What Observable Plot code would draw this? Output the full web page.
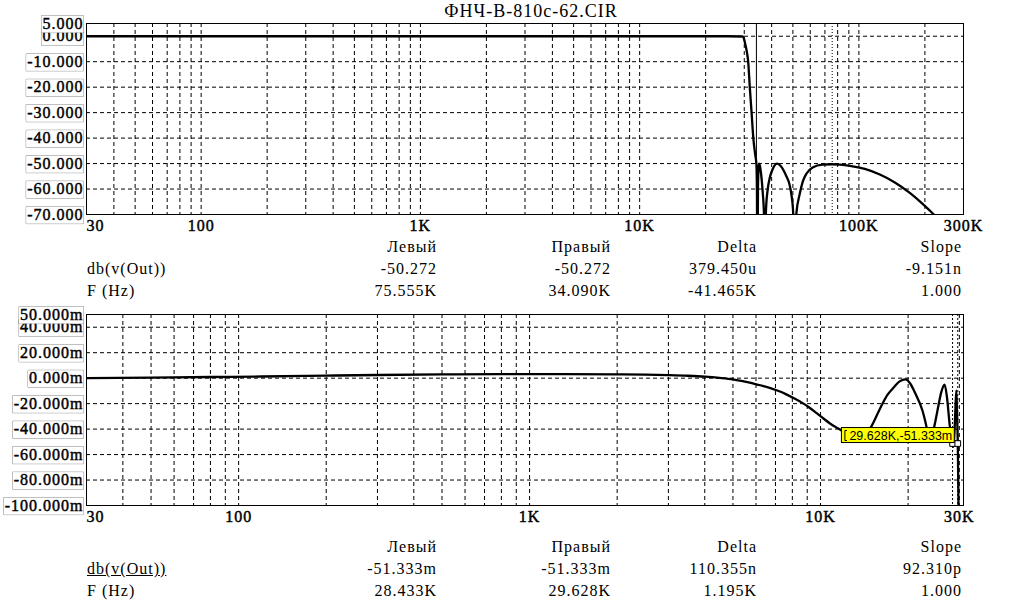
<!DOCTYPE html>
<html><head><meta charset="utf-8">
<script src="https://cdn.jsdelivr.net/npm/d3@7"></script>
<script src="https://cdn.jsdelivr.net/npm/@observablehq/plot@0.6"></script>
<style>
body{margin:0;background:#fff;}
#page{position:relative;width:1012px;height:603px;overflow:hidden;background:#fff;font-family:"Liberation Serif","Times New Roman","DejaVu Serif",serif;color:#000;}
#page svg{position:absolute;left:0;}
#page svg text{letter-spacing:1px;}
.t{position:absolute;font-size:16px;line-height:16px;letter-spacing:1px;white-space:nowrap;}
.title{position:absolute;font-size:18px;line-height:18px;letter-spacing:1px;white-space:nowrap;}
.u{text-decoration:underline;}
</style>
</head><body><div id="page"></div>
<script>
// ---------- data ----------
const chartTitle = "ФНЧ-В-810с-62.CIR";

// top panel: magnitude dB vs frequency
const topFreq = [30,1000,10000,25000,29500,29800,30200,30750,31260,31800,32400,33000,33600,34090,34300,34450,34650,34850,35050,35400,35800,36400,36900,37250,37700,38400,39300,40500,42400,44000,46700,48200,49200,50200,50900,51800,53700,55500,57600,61500,68300,75555,82000,90900,106400,124600,145900,170700,193600,219700,249200];
const topDb   = [0,0,0,0,-0.1,-0.6,-2.5,-5.6,-10,-20,-30,-40,-46,-50.272,-60,-100,-60,-52,-50,-51,-54,-61,-70,-100,-68,-60,-55.3,-52,-50,-51,-55,-58,-62,-70,-100,-70,-62,-57,-54,-51.5,-50.4,-50.272,-50.45,-50.9,-52.1,-54.3,-57.4,-61.5,-65.5,-70,-75];

// bottom panel: passband detail, milli-dB
const botFreq = [30,50,80,120,200,300,500,800,1200,2000,2500,3000,3500,4000,4500,5000,5500,6060,6600,7100,7600,8100,8600,9120,9700,10260,11000,11880,12500,13300,14100,14900,16100,17000,17900,18700,19600,20300,21200,22400,23000,23500,23800,24200,24650,25400,26000,26700,27200,27800,28100,28433,28650,28900,29100,29300,29450,29628,29800,30000];
const botMdb  = [0,0.4,0.9,1.3,2.0,2.5,2.9,3.1,3.2,3.0,2.8,2.4,1.9,1.2,0.2,-1.0,-2.8,-5,-7.2,-9.7,-12.5,-15.7,-19,-22.8,-27.5,-31.9,-37,-41.5,-46,-49.5,-46,-38.5,-22.8,-13,-7,-2.5,-1,-4,-12.3,-25.4,-35.6,-46,-50,-45,-37,-22,-11,-5,-15,-37,-45,-51.333,-54,-40,-22,-9.7,-28,-51.333,-100,-160];

// axes
const topXTicks = [30,100,1000,10000,100000,300000];
const topXLabels = ["30","100","1K","10K","100K","300K"];
const topYTicks = [-70,-60,-50,-40,-30,-20,-10,0,5];
const topYLabels = ["-70.000","-60.000","-50.000","-40.000","-30.000","-20.000","-10.000","0.000","5.000"];
const botXTicks = [30,100,1000,10000,30000];
const botXLabels = ["30","100","1K","10K","30K"];
const botYTicks = [-100,-80,-60,-40,-20,0,20,40,50];
const botYLabels = ["-100.000m","-80.000m","-60.000m","-40.000m","-20.000m","0.000m","20.000m","40.000m","50.000m"];

// cursors
const topCursorLeft = 75555, topCursorRight = 34090;
const botCursorFreq = [28433, 29628];
const botCursorVal = [-51.333, -51.333];
const cursorLabel = "29.628K,-51.333m";

// readouts
const readHeaders = ["Левый","Правый","Delta","Slope"];
const read1Names = ["db(v(Out))","F (Hz)"];
const read1Values = [["-50.272","-50.272","379.450u","-9.151n"],["75.555K","34.090K","-41.465K","1.000"]];
const read2Names = ["db(v(Out))","F (Hz)"];
const read2Values = [["-51.333m","-51.333m","110.355n","92.310p"],["28.433K","29.628K","1.195K","1.000"]];

// ---------- helpers ----------
function logGrid(lo, hi){
  const g = [];
  for (let p = 1; p <= 1e6; p *= 10) for (let m = 1; m <= 9; m++) { const v = m*p; if (v > lo && v < hi) g.push(v); }
  return g;
}
const serif = '"Liberation Serif","Times New Roman","DejaVu Serif",serif';
const page = document.getElementById("page");
const NS = "http://www.w3.org/2000/svg";

function panel({freq, vals, xDomain, yDomain, xTicks, xLabels, yTicks, yLabels, yGrid, height, marginTop, extra}) {
  const xi = xTicks.map((d,i)=>i);
  const yi = yTicks.map((d,i)=>i);
  const lab = {fill: "black", stroke: "black", strokeWidth: 0.45, fontSize: 16};
  return Plot.plot({
    width: 1012, height, marginLeft: 86, marginRight: 49, marginTop, marginBottom: 26,
    style: {fontFamily: serif, fontSize: "16px", overflow: "visible", background: "transparent", color: "black"},
    x: {type: "log", domain: xDomain, axis: null},
    y: {domain: yDomain, axis: null},
    marks: [
      Plot.text(yi, {y: i => yTicks[i], text: i => yLabels[i], frameAnchor: "left", textAnchor: "end", dx: -3, ...lab}),
      Plot.text(xi.slice(0,1), {x: i => xTicks[i], text: i => xLabels[i], frameAnchor: "bottom", lineAnchor: "top", textAnchor: "start", dy: 5, ...lab}),
      Plot.text(xi.slice(1), {x: i => xTicks[i], text: i => xLabels[i], frameAnchor: "bottom", lineAnchor: "top", textAnchor: "middle", dy: 5, ...lab}),
      Plot.ruleX(logGrid(xDomain[0], xDomain[1]), {stroke: "black", strokeWidth: 1, strokeDasharray: "4,3"}),
      Plot.ruleY(yGrid, {stroke: "black", strokeWidth: 1, strokeDasharray: "4,3"}),
      ...extra.before,
      Plot.line(freq.map((f,i)=>i), {x: i => freq[i], y: i => vals[i], curve: "monotone-x", stroke: "black", strokeWidth: 2.3, clip: true}),
      Plot.frame({stroke: "black", strokeWidth: 1}),
      ...extra.after
    ]
  });
}

// white backing behind each y label (upper labels hide the top of the one below, as in the original)
function backLabels(svg, labels) {
  const set = new Set(labels);
  [...svg.querySelectorAll("text")].filter(t => set.has(t.textContent)).forEach(t => {
    const bb = t.getBBox();
    const r = document.createElementNS(NS, "rect");
    const x0 = bb.x - 1, x1 = Math.min(bb.x + bb.width, 84);
    r.setAttribute("x", x0); r.setAttribute("y", bb.y + 1);
    r.setAttribute("width", Math.max(0, x1 - x0)); r.setAttribute("height", bb.height);
    r.setAttribute("fill", "white");
    if (t.getAttribute("transform")) r.setAttribute("transform", t.getAttribute("transform"));
    t.parentNode.insertBefore(r, t);
  });
}

// ---------- top panel ----------
const p1 = panel({
  freq: topFreq, vals: topDb, xDomain: [30, 300000], yDomain: [-70, 5],
  xTicks: topXTicks, xLabels: topXLabels, yTicks: topYTicks, yLabels: topYLabels,
  yGrid: [-60,-50,-40,-30,-20,-10,0], height: 240, marginTop: 23,
  extra: {
    before: [
      Plot.ruleX([topCursorRight], {stroke: "black", strokeWidth: 1}),
      Plot.ruleX([topCursorLeft], {stroke: "black", strokeWidth: 1, strokeDasharray: "1,2"})
    ],
    after: []
  }
});
p1.style.top = "0px";
page.appendChild(p1);
backLabels(p1, topYLabels);

// ---------- bottom panel ----------
const ci = botCursorFreq.map((d,i)=>i);
const p2 = panel({
  freq: botFreq, vals: botMdb, xDomain: [30, 31000], yDomain: [-100, 50],
  xTicks: botXTicks, xLabels: botXLabels, yTicks: botYTicks, yLabels: botYLabels,
  yGrid: [-80,-60,-40,-20,0,20,40], height: 231, marginTop: 14,
  extra: {
    before: [
      Plot.ruleX(botCursorFreq, {stroke: "black", strokeWidth: 1, strokeDasharray: "2,2"})
    ],
    after: [
      Plot.dot(ci, {x: i => botCursorFreq[i], y: i => botCursorVal[i], symbol: "square", r: 3.2, stroke: "black", strokeWidth: 1, fill: "white"}),
      Plot.text([1], {x: i => botCursorFreq[i], y: i => botCursorVal[i], text: () => cursorLabel, textAnchor: "end", lineAnchor: "bottom",
        dx: -5.5, dy: -4, fill: "black", fontSize: 12.5, fontFamily: '"Liberation Sans",Arial,sans-serif'})
    ]
  }
});
p2.style.top = "300px";
page.appendChild(p2);
backLabels(p2, botYLabels);

// yellow box behind the cursor label
const lab = [...p2.querySelectorAll("text")].find(t => t.textContent === cursorLabel);
if (lab) {
  lab.style.letterSpacing = "0px";
  const bb = lab.getBBox();
  const rect = document.createElementNS(NS, "rect");
  rect.setAttribute("x", bb.x - 8); rect.setAttribute("y", bb.y - 1);
  rect.setAttribute("width", bb.width + 10); rect.setAttribute("height", bb.height + 1);
  rect.setAttribute("fill", "#ffff00"); rect.setAttribute("stroke", "black"); rect.setAttribute("stroke-width", "1");
  if (lab.getAttribute("transform")) rect.setAttribute("transform", lab.getAttribute("transform"));
  lab.parentNode.insertBefore(rect, lab);
  const br = document.createElementNS(NS, "path");
  const bx = bb.x - 4.5, by0 = bb.y + 2, by1 = bb.y + bb.height - 2;
  br.setAttribute("d", `M${bx+2},${by0}H${bx}V${by1}H${bx+2}`);
  br.setAttribute("fill", "none"); br.setAttribute("stroke", "black"); br.setAttribute("stroke-width", "1");
  if (lab.getAttribute("transform")) br.setAttribute("transform", lab.getAttribute("transform"));
  lab.parentNode.insertBefore(br, lab);
}

// ---------- title & readouts ----------
function addText(cls, txt, left, top, right) {
  const d = document.createElement("div");
  d.className = cls; d.textContent = txt; d.style.top = top + "px";
  if (right !== undefined) { d.style.right = right + "px"; d.style.textAlign = "right"; }
  else d.style.left = left + "px";
  page.appendChild(d);
}
const titleDiv = document.createElement("div");
titleDiv.className = "title"; titleDiv.textContent = chartTitle;
titleDiv.style.left = "0px"; titleDiv.style.width = "1062px"; titleDiv.style.textAlign = "center"; titleDiv.style.top = "2px";
page.appendChild(titleDiv);

const colRight = [437, 611, 757, 962];
function readout(top, names, values, underlineFirst) {
  readHeaders.forEach((h,j) => addText("t", h, null, top, 1012 - colRight[j]));
  names.forEach((n,i) => {
    addText("t" + (underlineFirst && i === 0 ? " u" : ""), n, 87, top + 22*(i+1));
    values[i].forEach((v,j) => addText("t", v, null, top + 22*(i+1), 1012 - colRight[j]));
  });
}
readout(239, read1Names, read1Values, false);
readout(539, read2Names, read2Values, true);
</script>
</body></html>
